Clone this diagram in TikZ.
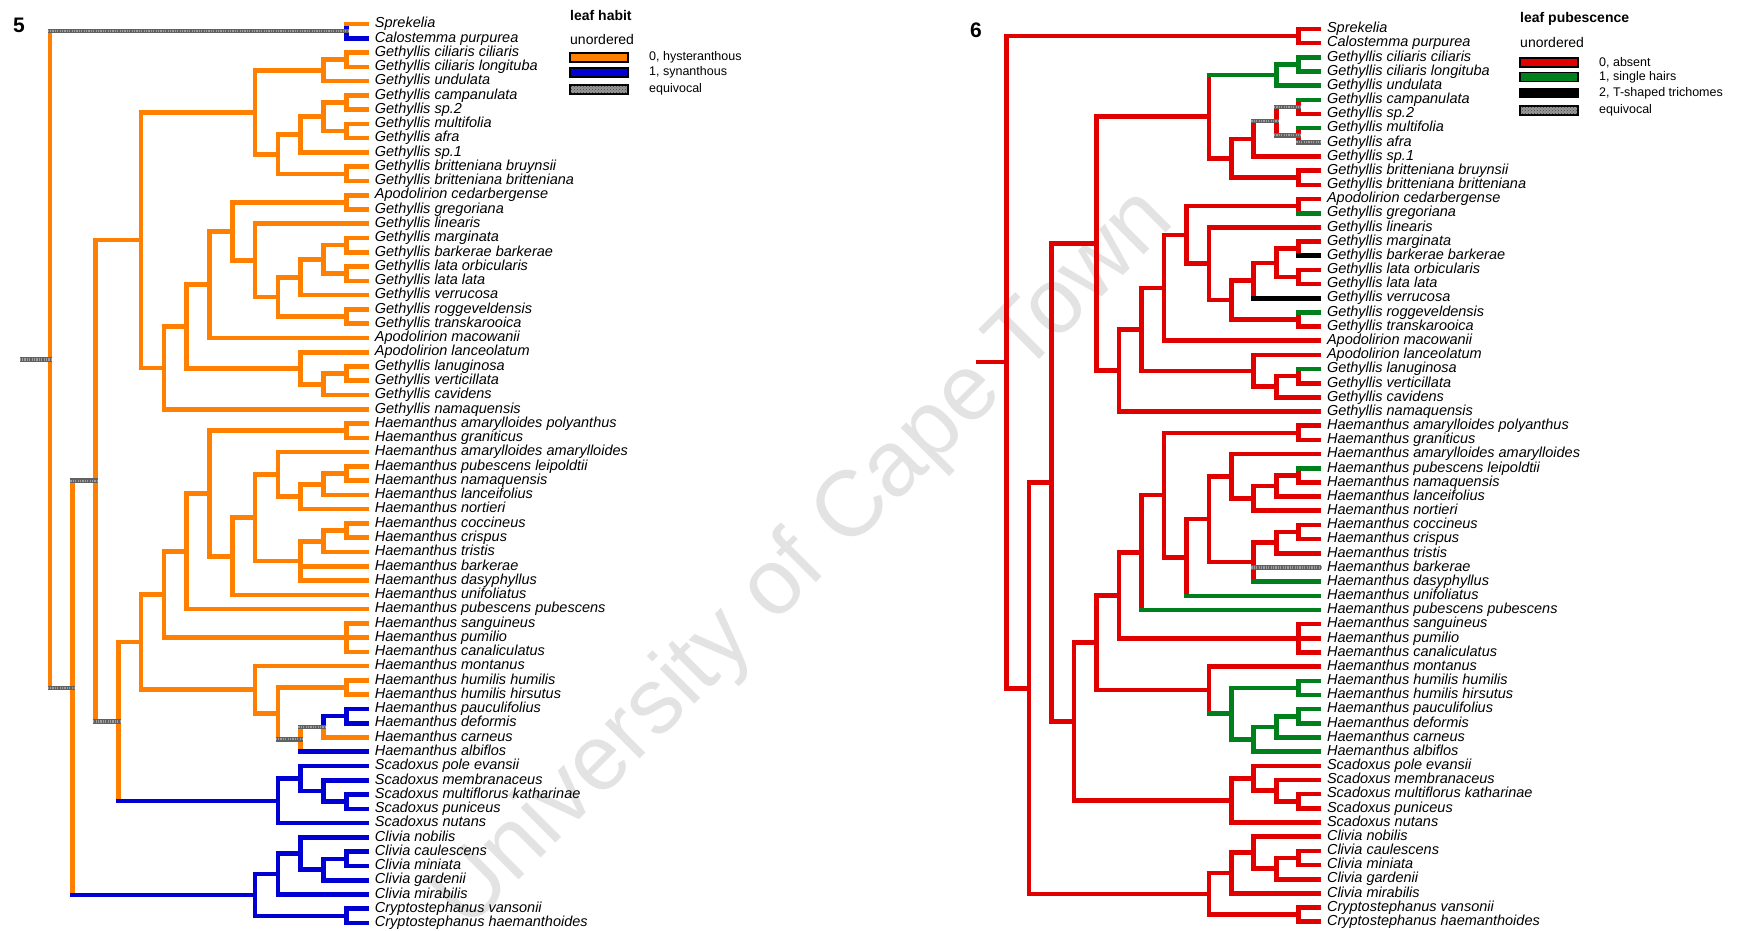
\documentclass[tikz,border=0pt]{standalone}
\usepackage{fontspec}
\setmainfont{Liberation Sans}
\usetikzlibrary{positioning,patterns}

\definecolor{habitorange}{RGB}{255,128,0}
\definecolor{habitblue}{RGB}{0,0,210}
\definecolor{pubred}{RGB}{225,0,0}
\definecolor{pubgreen}{RGB}{0,128,28}

% taxa, top to bottom
\newcommand\taxa{Sprekelia, Calostemma purpurea, Gethyllis ciliaris ciliaris, Gethyllis ciliaris longituba, Gethyllis undulata, Gethyllis campanulata, Gethyllis sp.2, Gethyllis multifolia, Gethyllis afra, Gethyllis sp.1, Gethyllis britteniana bruynsii, Gethyllis britteniana britteniana, Apodolirion cedarbergense, Gethyllis gregoriana, Gethyllis linearis, Gethyllis marginata, Gethyllis barkerae barkerae, Gethyllis lata orbicularis, Gethyllis lata lata, Gethyllis verrucosa, Gethyllis roggeveldensis, Gethyllis transkarooica, Apodolirion macowanii, Apodolirion lanceolatum, Gethyllis lanuginosa, Gethyllis verticillata, Gethyllis cavidens, Gethyllis namaquensis, Haemanthus amarylloides polyanthus, Haemanthus graniticus, Haemanthus amarylloides amarylloides, Haemanthus pubescens leipoldtii, Haemanthus namaquensis, Haemanthus lanceifolius, Haemanthus nortieri, Haemanthus coccineus, Haemanthus crispus, Haemanthus tristis, Haemanthus barkerae, Haemanthus dasyphyllus, Haemanthus unifoliatus, Haemanthus pubescens pubescens, Haemanthus sanguineus, Haemanthus pumilio, Haemanthus canaliculatus, Haemanthus montanus, Haemanthus humilis humilis, Haemanthus humilis hirsutus, Haemanthus pauculifolius, Haemanthus deformis, Haemanthus carneus, Haemanthus albiflos, Scadoxus pole evansii, Scadoxus membranaceus, Scadoxus multiflorus katharinae, Scadoxus puniceus, Scadoxus nutans, Clivia nobilis, Clivia caulescens, Clivia miniata, Clivia gardenii, Clivia mirabilis, Cryptostephanus vansonii, Cryptostephanus haemanthoides}

% internal nodes: name/level/row
\newcommand\inner{sc/13/1.5, q2/13/3.5, q/12/4.25, r3/13/6.5, r4/13/8.5, r2/12/7.5, r1/11/8.75, r5/13/11.5, r/10/10.125, g1/9/7.1875, u1/13/13.5, w3/13/16.5, w4/13/18.5, w2/12/17.5, w1/11/18.75, w5/13/21.5, w/10/20.125, v/9/17.5625, u/8/15.53125, tt/7/19.265625, x2/13/25.5, x1/12/26.25, xx/11/25.125, s/6/22.1953, p/5/25.0977, c/4/16.1426, pg/13/29.5, l3/13/32.5, l2/12/33.25, l/11/34.125, kk/10/32.5625, n3/13/36.5, n2/12/37.25, n/11/38.625, j/9/35.5938, i/8/38.2969, h/7/33.8984, g/6/37.9492, san/13/44, f/5/40.9746, y1/13/47.5, z1a/13/49.5, z1/12/50.25, z/11/51.125, yy/10/49.3125, m/9/47.6563, e/4/44.3154, sc3/13/55.5, sc2/12/54.75, sc1/11/53.875, scx/10/55.4375, d/3/49.8765, b/2/33.0095, cl3/13/59.5, cl2/12/60.25, cl1/11/59.125, cl/10/60.5625, cr/13/63.5, cc/9/62.0313, a/1/47.5204, root/0/24.5102}

% parent/child
\newcommand\edges{root/sc, root/a, sc/1, sc/2, a/b, a/cc, b/c, b/d, c/g1, c/p, g1/q, g1/r, q/q2, q/5, q2/3, q2/4, r/r1, r/r5, r1/r2, r1/10, r2/r3, r2/r4, r3/6, r3/7, r4/8, r4/9, r5/11, r5/12, p/s, p/28, s/tt, s/xx, tt/u, tt/23, u/u1, u/v, u1/13, u1/14, v/15, v/w, w/w1, w/w5, w1/w2, w1/20, w2/w3, w2/w4, w3/16, w3/17, w4/18, w4/19, w5/21, w5/22, xx/24, xx/x1, x1/x2, x1/27, x2/25, x2/26, d/e, d/scx, e/f, e/m, f/g, f/san, g/h, g/42, h/pg, h/i, pg/29, pg/30, i/j, i/41, j/kk, j/n, kk/31, kk/l, l/l2, l/35, l2/l3, l2/34, l3/32, l3/33, n/n2, n/39, n/40, n2/n3, n2/38, n3/36, n3/37, san/43, san/44, san/45, m/46, m/yy, yy/y1, yy/z, y1/47, y1/48, z/z1, z/52, z1/z1a, z1/51, z1a/49, z1a/50, scx/sc1, scx/57, sc1/53, sc1/sc2, sc2/54, sc2/sc3, sc3/55, sc3/56, cc/cl, cc/cr, cl/cl1, cl/62, cl1/58, cl1/cl2, cl2/cl3, cl2/61, cl3/59, cl3/60, cr/63, cr/64}

% parent/child/vertical/horizontal, where not default
\newcommand\habitmarks{root/sc/hyst/equiv, root/a/hyst/equiv, sc/1/syn/hyst, sc/2/syn/syn, a/b/hyst/equiv, a/cc/hyst/syn, b/d/hyst/equiv, d/scx/hyst/syn, yy/z/hyst/equiv, z/z1/hyst/equiv, z/52/hyst/syn, z1/z1a/syn/syn, z1a/49/syn/syn, z1a/50/syn/syn, scx/sc1/syn/syn, scx/57/syn/syn, sc1/53/syn/syn, sc1/sc2/syn/syn, sc2/54/syn/syn, sc2/sc3/syn/syn, sc3/55/syn/syn, sc3/56/syn/syn, cc/cl/syn/syn, cc/cr/syn/syn, cl/cl1/syn/syn, cl/62/syn/syn, cl1/58/syn/syn, cl1/cl2/syn/syn, cl2/cl3/syn/syn, cl2/61/syn/syn, cl3/59/syn/syn, cl3/60/syn/syn, cr/63/syn/syn, cr/64/syn/syn}
\newcommand\hairmarks{g1/q/absent/hairs, q/q2/hairs/hairs, q/5/hairs/hairs, q2/3/hairs/hairs, q2/4/hairs/hairs, r1/r2/absent/equiv, r2/r3/absent/equiv, r2/r4/absent/equiv, r3/6/absent/hairs, r4/8/absent/hairs, r4/9/absent/equiv, u1/14/absent/hairs, w3/17/absent/tshaped, w1/20/absent/tshaped, w5/21/absent/hairs, x2/25/absent/hairs, l3/32/absent/hairs, n/39/absent/equiv, n/40/absent/hairs, i/41/absent/hairs, g/42/absent/hairs, m/yy/absent/hairs, yy/y1/hairs/hairs, yy/z/hairs/hairs, y1/47/hairs/hairs, y1/48/hairs/hairs, z/z1/hairs/hairs, z/52/hairs/hairs, z1/z1a/hairs/hairs, z1/51/hairs/hairs, z1a/49/hairs/hairs, z1a/50/hairs/hairs}

% prefix, x of root, level step, y of first row, row step
\newcommand\buildtree[5]{%
  \foreach \tx [count=\i] in \taxa
    \node[taxon] (#1-\i) at ({#2+14*#3-2.3}, {#4+(\i-1)*#5}) {\tx};
  \foreach \nd/\lv/\ix in \inner
    \coordinate (#1-\nd) at ({#2+\lv*#3}, {#4+(\ix-1)*#5});
  \coordinate (#1-base) at ({#2-28}, {#4+23.5102*#5});
}

% prefix, default state, marked branches
\newcommand\drawtree[3]{%
  \foreach \pa/\ch in \edges
    \draw[branch, #2] (#1-\pa) -- (#1-\pa |- #1-\ch);
  \foreach \pa/\ch/\vs/\hs in #3
    \draw[branch, \vs] (#1-\pa) -- (#1-\pa |- #1-\ch);
  \foreach \pa/\ch in \edges
    \draw[stem, #2] (#1-\pa |- #1-\ch) -- (#1-\ch);
  \foreach \pa/\ch/\vs/\hs in #3
    \draw[stem, \hs] (#1-\pa |- #1-\ch) -- (#1-\ch);
}

\begin{document}
\begin{tikzpicture}[x=1pt, y=-1pt]
\tikzset{
  taxon/.style={
    anchor=west,
    inner xsep=8pt,
    inner ysep=0pt,
    text height=10.5pt,
    text depth=3pt,
    font=\fontsize{14.5}{16}\selectfont\itshape
  },
  branch/.style={line width=4.6pt, line cap=rect},
  stem/.style={line width=4.6pt, line cap=butt, shorten <=-2.3pt, shorten >=-2.3pt},
  hyst/.style={draw=habitorange},
  syn/.style={draw=habitblue},
  absent/.style={draw=pubred},
  hairs/.style={draw=pubgreen},
  tshaped/.style={draw=black},
  equiv/.style={
    draw=black!62,
    postaction={draw=black!38, line width=2.2pt, dash pattern=on 1.2pt off 1.2pt}
  },
  swatch/.style={
    rectangle,
    draw=black,
    line width=1.3pt,
    minimum width=58pt,
    minimum height=9pt,
    inner sep=0pt
  },
  hystbox/.style={fill=habitorange},
  synbox/.style={fill=habitblue},
  absentbox/.style={fill=pubred},
  hairsbox/.style={fill=pubgreen},
  tshapedbox/.style={fill=black},
  equivbox/.style={fill=black!40, postaction={pattern=crosshatch dots, pattern color=black!75}},
  legtitle/.style={anchor=base west, inner sep=0pt, font=\bfseries\fontsize{14}{16}\selectfont},
  legsub/.style={anchor=base west, inner sep=0pt, font=\fontsize{14}{16}\selectfont},
  legtext/.style={font=\fontsize{12.5}{14}\selectfont},
  panel/.style={anchor=base west, inner sep=0pt, font=\bfseries\fontsize{21}{24}\selectfont},
  watermark/.style={rotate=45, inner sep=0pt, text=black!11, font=\fontsize{93}{93}\selectfont}
}
\useasboundingbox (0,0) rectangle (1740,931);

\node[watermark] (wm) at (805,560) {University of Cape Town};

\buildtree{L}{49.8}{22.8}{24}{14.27}
\buildtree{R}{1006.7}{22.46}{29}{14.17}

\drawtree{L}{hyst}{\habitmarks}
\drawtree{R}{absent}{\hairmarks}
\draw[stem, equiv] (L-base) -- (L-root);
\draw[stem, absent] (R-base) -- (R-root);

\node[panel] (num-5) at (13,33) {5};
\node[panel] (num-6) at (970,38) {6};

% legend, leaf habit
\node[legtitle] (hab-title) at (570,21) {leaf habit};
\node[legsub] (hab-sub) at (570,45) {unordered};
\foreach \bx/\lab/\yy [count=\k] in {hystbox/{0, hysteranthous}/57.5, synbox/{1, synanthous}/72.5, equivbox/equivocal/89.5} {
  \node[swatch, \bx] (hab-box-\k) at (599,\yy) {};
  \node[legtext, right=17pt of hab-box-\k] (hab-lab-\k) {\lab};
}

% legend, leaf pubescence
\node[legtitle] (pub-title) at (1520,23) {leaf pubescence};
\node[legsub] (pub-sub) at (1520,48) {unordered};
\foreach \bx/\lab/\yy [count=\k] in {absentbox/{0, absent}/62.5, hairsbox/{1, single hairs}/77, tshapedbox/{2, T-shaped trichomes}/93, equivbox/equivocal/110.5} {
  \node[swatch, \bx] (pub-box-\k) at (1549,\yy) {};
  \node[legtext, right=17pt of pub-box-\k] (pub-lab-\k) {\lab};
}
\end{tikzpicture}
\end{document}
